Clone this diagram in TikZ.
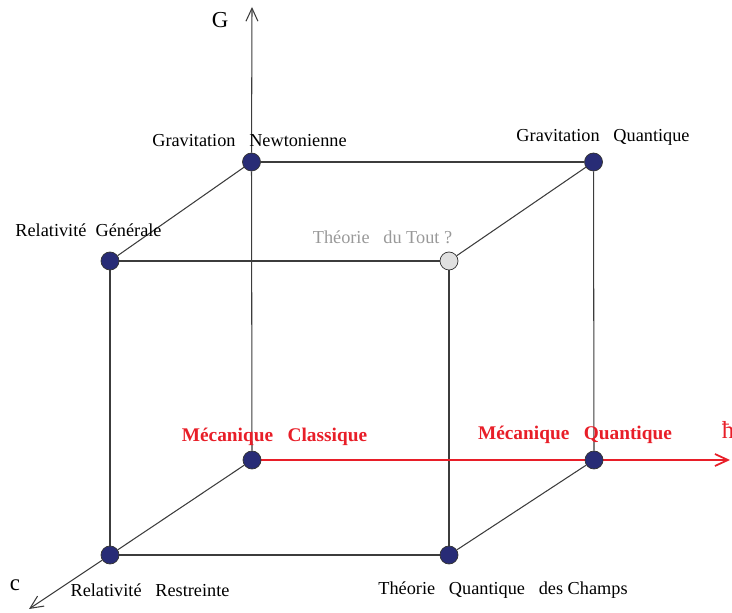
\documentclass[tikz,border=0pt]{standalone}
\usepackage{fontspec}
\setmainfont{Liberation Serif}
\usetikzlibrary{backgrounds,arrows.meta}
\definecolor{pointbleu}{RGB}{40,44,118}
\definecolor{trait}{RGB}{60,60,60}
\definecolor{rouge}{RGB}{232,30,40}
\tikzstyle{point}=[circle,fill=pointbleu,draw=black!80,thin,minimum size=0.36cm,inner sep=0pt]
\tikzstyle{arete}=[draw=trait,line width=0.6pt]
\tikzstyle{axe}=[-{Straight Barb[length=2.6mm,width=2.4mm]}]
\tikzstyle{annot}=[align=center,font=\fontsize{10.4}{12}\selectfont]
\tikzstyle{rannot}=[annot,text=rouge,font=\fontsize{11}{13}\selectfont\bfseries]

\begin{document}
\begin{tikzpicture}
	\useasboundingbox (0,0) rectangle (14.64,12.24);

	% sommets du cube
	\node[point](gn) at (5.03,9.00){};
	\node[point](gq) at (11.87,9.00){};
	\node[point](rg) at (2.20,7.02){};
	\node[point, fill=black!12](tt) at (8.98,7.02){};
	\node[point](mc) at (5.04,3.04){};
	\node[point](mq) at (11.88,3.04){};
	\node[point](rr) at (2.20,1.14){};
	\node[point](tqc) at (8.98,1.14){};

	% extremites des axes
	\coordinate (gtip) at (5.04,12.10);
	\coordinate (ctip) at (0.58,0.06);
	\coordinate (htip) at (14.60,3.04);

	\begin{scope}[on background layer]
	\draw[arete] (gn) -- (gq);
	\draw[arete] (gn) -- (rg);
	\draw[arete] (gq) -- (tt);
	\draw[arete] (rg) -- (tt);
	\draw[arete] (rg) -- (rr);
	\draw[arete] (tt) -- (tqc);
	\draw[arete] (gq) -- (mq);
	\draw[arete] (rr) -- (tqc);
	\draw[arete] (mq) -- (tqc);
	% axes
	\draw[arete,axe] (mc) -- (gn) -- (gtip);
	\draw[arete,axe] (mc) -- (rr) -- (ctip);
	\draw[draw=rouge,line width=1pt,axe] (mc) -- (mq) -- (htip);
	\end{scope}

	\node[annot](lg) at (4.40,11.84){\fontsize{13}{14}\selectfont G};
	\node[annot](lc) at (0.30,0.54){\fontsize{13}{14}\selectfont c};
	\node[annot,text=rouge](lh) at (14.56,3.64){\fontsize{14}{15}\selectfont ħ};

	\node[annot](lgn) at (4.99,9.42){Gravitation\ \ \ Newtonienne};
	\node[annot](lgq) at (12.06,9.50){Gravitation\ \ \ Quantique};
	\node[annot](lrg) at (1.77,7.64){Relativité\ \ Générale};
	\node[annot,text=black!40](ltt) at (7.65,7.50){Théorie\ \ \ du Tout ?};
	\node[rannot](lmc) at (5.49,3.50){Mécanique\ \ \ Classique};
	\node[rannot](lmq) at (11.50,3.54){Mécanique\ \ \ Quantique};
	\node[annot](lrr) at (3.00,0.44){Relativité\ \ \ Restreinte};
	\node[annot](ltqc) at (10.06,0.44){Théorie\ \ \ Quantique\ \ \ des Champs};

\end{tikzpicture}
\end{document}
